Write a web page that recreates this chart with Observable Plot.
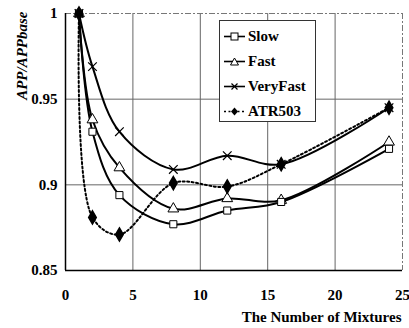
<!DOCTYPE html>
<html>
<head>
<meta charset="utf-8">
<script src="https://cdn.jsdelivr.net/npm/d3@7"></script>
<script src="https://cdn.jsdelivr.net/npm/@observablehq/plot@0.6"></script>
<style>
  body { margin: 0; background: #fff; }
  #wrap { position: relative; width: 409px; height: 328px; font-family: "Liberation Serif", "Times New Roman", serif; }
  #wrap svg text { font-family: "Liberation Serif", "Times New Roman", serif; }
  #legend { position: absolute; left: 219px; top: 20px; width: 95px; height: 100px; background: #fff;
            border: 1px solid #333; font-weight: bold; font-size: 15px; }
  .item { position: absolute; left: 3px; display: flex; align-items: center; height: 18px; }
  .item svg { margin-right: 2px; }
</style>
</head>
<body>
<div id="wrap"></div>
<script>
const mixtures = [1, 2, 4, 8, 12, 16, 24];
const slow     = [1, 0.931, 0.894, 0.877, 0.885, 0.890, 0.921];
const fast     = [1, 0.938, 0.910, 0.886, 0.892, 0.891, 0.925];
const veryFast = [1, 0.969, 0.931, 0.909, 0.917, 0.912, 0.945];
const atr503   = [1, 0.881, 0.871, 0.901, 0.899, 0.912, 0.945];
const seriesNames = ["Slow", "Fast", "VeryFast", "ATR503"];
const xTicks = [0, 5, 10, 15, 20, 25];
const yTicks = [0.85, 0.9, 0.95, 1];

const toRows = (vals, name) => mixtures.map((m, i) => ({x: m, y: vals[i], s: name}));
const rSlow = toRows(slow, "Slow"), rFast = toRows(fast, "Fast"),
      rVery = toRows(veryFast, "VeryFast"), rAtr = toRows(atr503, "ATR503");

const line = (rows, extra = {}) => Plot.line(rows, {x: "x", y: "y", curve: "catmull-rom", stroke: "#000", strokeWidth: 2, ...extra});

const chart = Plot.plot({
  width: 409, height: 328,
  marginLeft: 65, marginRight: 7, marginTop: 13, marginBottom: 58,
  style: "font-family: 'Liberation Serif', 'Times New Roman', serif; font-size: 15px; font-weight: bold; color: #000; background: #fff;",
  x: {domain: [0, 25], ticks: xTicks, tickSize: 0, tickPadding: 19, label: null, tickFormat: d => String(d)},
  y: {domain: [0.85, 1], ticks: yTicks, tickSize: 0, tickPadding: 8, label: null, tickFormat: d => String(d)},
  marks: [
    Plot.ruleX([5, 10, 15, 20], {stroke: "#666", strokeWidth: 1}),
    Plot.ruleY([0.9, 0.95], {stroke: "#666", strokeWidth: 1}),
    Plot.ruleY([1], {stroke: "#777", strokeDasharray: "6,2,2,2"}),
    Plot.ruleX([25], {stroke: "#777", strokeDasharray: "6,2,2,2"}),
    Plot.ruleX([0], {stroke: "#000", strokeWidth: 1.5}),
    Plot.ruleY([0.85], {stroke: "#000", strokeWidth: 1.5}),
    line(rAtr, {strokeDasharray: "2,2.5", strokeWidth: 2}),
    line(rVery),
    line(rFast),
    line(rSlow),
    Plot.dot(rVery, {x: "x", y: "y", symbol: "times", r: 4, stroke: "#000", strokeWidth: 1.2}),
    Plot.dot(rFast, {x: "x", y: "y", symbol: "triangle", r: 4, fill: "#fff", stroke: "#000", strokeWidth: 1}),
    Plot.dot(rSlow, {x: "x", y: "y", symbol: "square", r: 4, fill: "#fff", stroke: "#000", strokeWidth: 1}),
    Plot.dot(rAtr, {x: "x", y: "y", symbol: "diamond", r: 4, fill: "#000", stroke: "#000"}),
    Plot.text(["The Number of Mixtures"], {frameAnchor: "bottom-right", dy: 51, dx: -1, textAnchor: "end", fontSize: 15, fontWeight: "bold"}),
    Plot.text(["APP/APPbase"], {frameAnchor: "top-left", dx: -49, dy: -2, rotate: -90, textAnchor: "end", fontSize: 15, fontWeight: "bold", fontStyle: "italic"})
  ]
});
const wrap = document.getElementById("wrap");
wrap.appendChild(chart);

// legend
const legend = document.createElement("div");
legend.id = "legend";
const symbols = {
  Slow: '<rect x="8" y="5" width="7" height="7" fill="#fff" stroke="#000"/>',
  Fast: '<path d="M11.5 5 L15.5 12 L7.5 12 Z" fill="#fff" stroke="#000"/>',
  VeryFast: '<path d="M8.5 5.5 L14.5 11.5 M14.5 5.5 L8.5 11.5" stroke="#000" stroke-width="1.2"/>',
  ATR503: '<path d="M11.5 4.5 L15 8.5 L11.5 12.5 L8 8.5 Z" fill="#000"/>'
};
seriesNames.forEach((name, i) => {
  const item = document.createElement("div");
  item.className = "item";
  item.style.top = (6 + i * 25) + "px";
  const dash = name === "ATR503" ? ' stroke-dasharray="2,2.5"' : '';
  item.innerHTML = `<svg width="23" height="17"><line x1="1" y1="8.5" x2="22" y2="8.5" stroke="#000" stroke-width="1.6"${dash}/>${symbols[name]}</svg><span>${name}</span>`;
  legend.appendChild(item);
});
wrap.appendChild(legend);
</script>
</body>
</html>
